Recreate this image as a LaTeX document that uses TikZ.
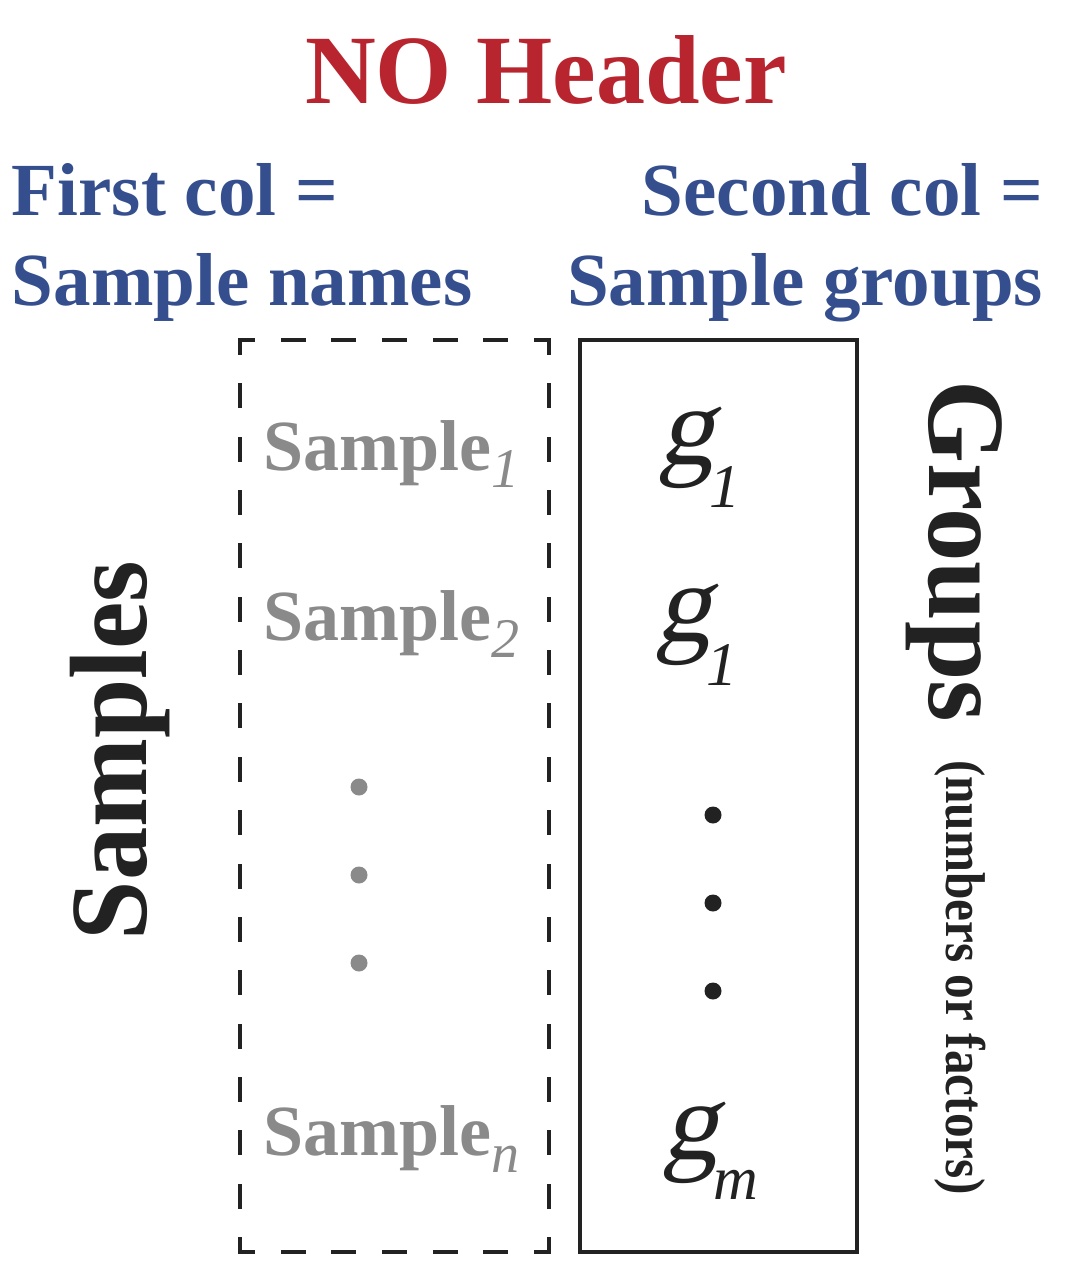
\documentclass[tikz,border=0pt]{standalone}
\usepackage{fontspec}
\usepackage{graphicx}
\setmainfont{Liberation Serif}
\newfontfamily\gslant[FakeSlant=0.22]{Liberation Serif}
\definecolor{hred}{HTML}{B8252F}
\definecolor{hblue}{HTML}{354F8E}
\definecolor{sgray}{HTML}{8A8A8A}
\definecolor{ink}{HTML}{222222}
\tikzset{
  txt/.style={inner sep=0pt, outer sep=0pt},
  colbox/.style={draw=ink, line width=3.5pt, inner sep=0pt, outer sep=0pt},
  plainbox/.style={inner sep=0pt, outer sep=0pt},
  dashside/.style={draw=ink, line width=3.5pt, line cap=rect},
  gdot/.style={circle, fill=sgray, inner sep=0pt, minimum size=17pt},
  bdot/.style={circle, fill=ink, inner sep=0pt, minimum size=17pt},
}
\newcommand{\fs}[1]{\fontsize{#1}{#1}\selectfont}
\newcommand{\samp}[1]{{\fs{72}\bfseries Sample}\raisebox{-17pt}{\fs{56}\itshape #1}}
\newcommand{\gsub}[2]{{\fs{112}\gslant g}\kern-5pt\raisebox{-#2}{\fs{62}\itshape #1}}
\begin{document}
\begin{tikzpicture}[x=1pt,y=-1pt]
\useasboundingbox (0,0) rectangle (1071,1267);
% title
\node[txt, anchor=base, text=hred, font=\fs{98}\bfseries] (title) at (546,103) {NO Header};
% column headers
\node[txt, anchor=base west, text=hblue, font=\fs{75}\bfseries] (h1a) at (12,215) {First col =};
\node[txt, anchor=base west, text=hblue, font=\fs{75}\bfseries] (h1b) at (12,305) {Sample names};
\node[txt, anchor=base east, text=hblue, font=\fs{75}\bfseries] (h2a) at (1043,215) {Second col =};
\node[txt, anchor=base east, text=hblue, font=\fs{75}\bfseries] (h2b) at (1043,305) {Sample groups};
% boxes
\node[plainbox, minimum width=309pt, minimum height=912pt] (lbox) at (394.5,796) {};
\draw[dashside, dash pattern=on 21.5pt off 29.17pt, dash phase=8.25pt] (lbox.north west) -- (lbox.north east);
\draw[dashside, dash pattern=on 21.5pt off 29.17pt, dash phase=8.25pt] (lbox.south west) -- (lbox.south east);
\draw[dashside, dash pattern=on 21.5pt off 31.85pt, dash phase=8.25pt] (lbox.north west) -- (lbox.south west);
\draw[dashside, dash pattern=on 21.5pt off 31.85pt, dash phase=8.25pt] (lbox.north east) -- (lbox.south east);
\node[colbox, minimum width=277pt, minimum height=912pt] (rbox) at (718.5,796) {};
% sample names
\node[txt, anchor=base west, text=sgray] (s1) at (263,470) {\samp{1}};
\node[txt, anchor=base west, text=sgray] (s2) at (263,640) {\samp{2}};
\node[txt, anchor=base west, text=sgray] (sn) at (263,1155) {\samp{n}};
\node[gdot] (gd1) at (359,787) {};
\node[gdot] (gd2) at (359,875) {};
\node[gdot] (gd3) at (359,963) {};
% groups
\node[txt, anchor=base west, text=ink] (g1) at (658,464) {\gsub{1}{43pt}};
\node[txt, anchor=base west, text=ink] (g2) at (655,641) {\gsub{1}{44pt}};
\node[txt, anchor=base west, text=ink] (gm) at (662,1159) {\gsub{m}{40pt}};
\node[bdot] (bd1) at (713,815) {};
\node[bdot] (bd2) at (713,903) {};
\node[bdot] (bd3) at (713,991) {};
% side labels
\node[txt, anchor=base west, rotate=90, text=ink, font=\fs{110}\bfseries] (samples) at (146,940) {\scalebox{0.97}[1]{Samples}};
\node[txt, anchor=base west, rotate=-90, text=ink, font=\fs{110}\bfseries] (groups) at (929,380) {\scalebox{0.97}[1]{Groups}};
\node[txt, anchor=base west, rotate=-90, text=ink, font=\fs{56}\bfseries] (note) at (946,760) {\scalebox{0.88}[1]{(numbers or factors)}};
\end{tikzpicture}
\end{document}
